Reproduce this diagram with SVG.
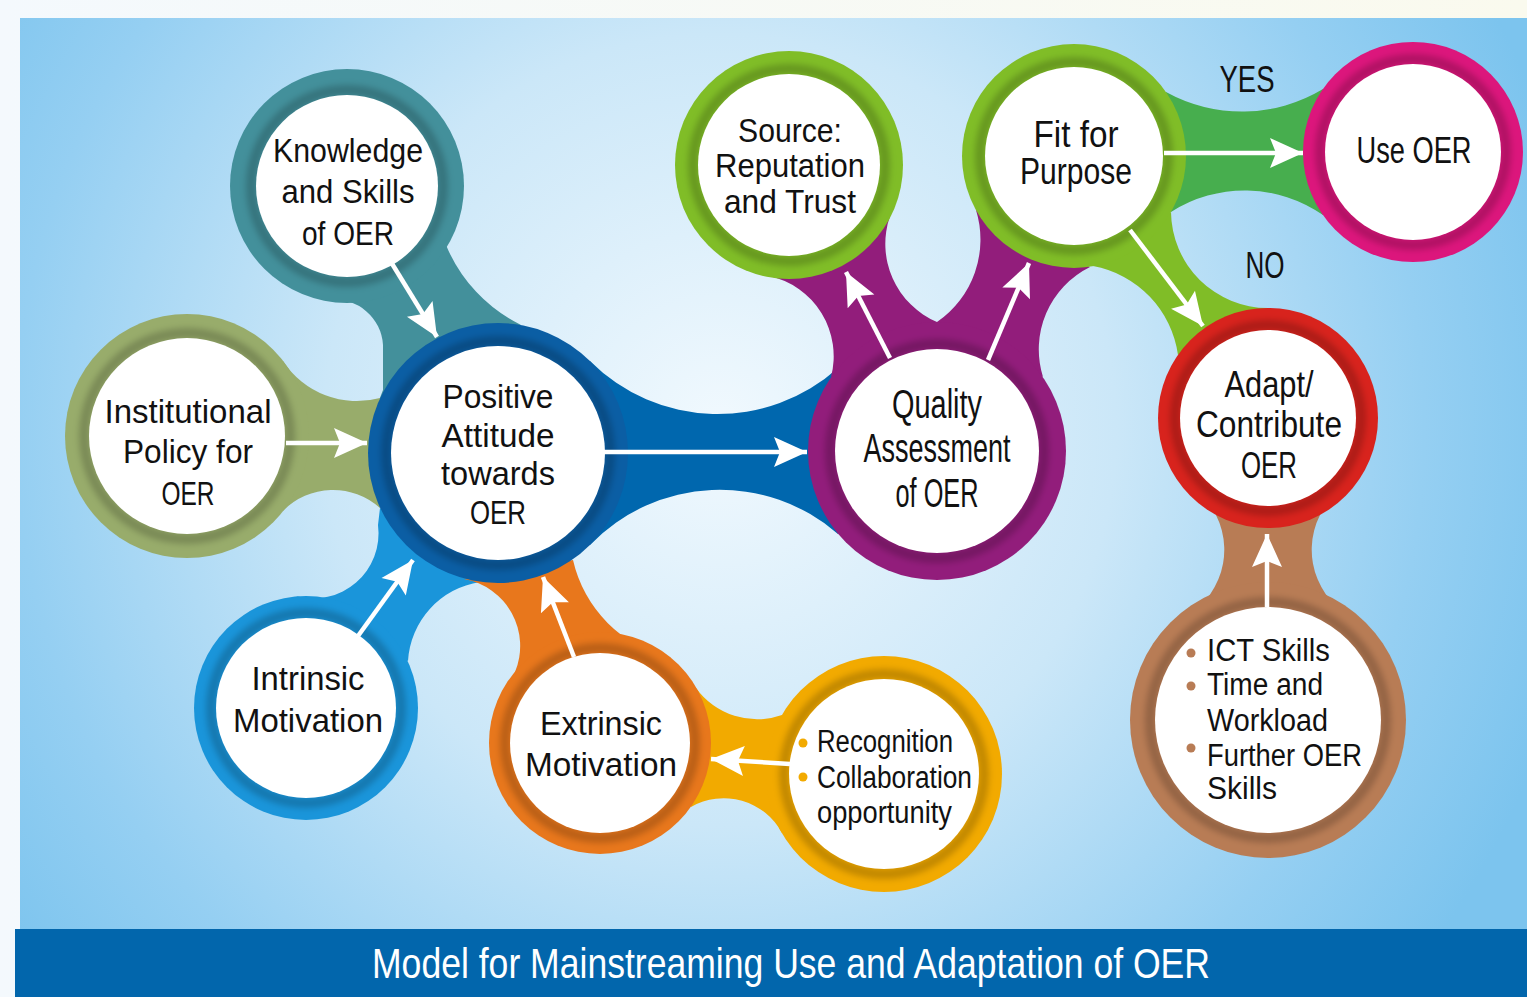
<svg xmlns="http://www.w3.org/2000/svg" width="1527" height="997" viewBox="0 0 1527 997">
<defs>
<linearGradient id="outer" x1="0" y1="0" x2="1" y2="0"><stop offset="0" stop-color="#f4f9fd"/><stop offset="1" stop-color="#fafaee"/></linearGradient>
<radialGradient id="panel" gradientUnits="userSpaceOnUse" cx="720" cy="430" r="880"><stop offset="0" stop-color="#f1f9fe"/><stop offset="0.45" stop-color="#cbe7f8"/><stop offset="0.8" stop-color="#95cff2"/><stop offset="1" stop-color="#7cc4ee"/></radialGradient>
<filter id="blur" x="-20%" y="-20%" width="140%" height="140%"><feGaussianBlur stdDeviation="3"/></filter>
<marker id="ah" markerUnits="userSpaceOnUse" viewBox="-36 -16 38 32" markerWidth="38" markerHeight="32" refX="0" refY="0" orient="auto"><path d="M0,0 L-33,-15 L-27,0 L-33,15 Z" fill="#fff"/></marker>
<style>
.in{fill:#fff}
.sh{fill:none;stroke:#000;stroke-opacity:0.2;stroke-width:10;filter:url(#blur)}
.t{font-family:"Liberation Sans Narrow","Liberation Sans",Arial,sans-serif;font-size:34px;fill:#111;text-anchor:middle}
.l{text-anchor:start;font-size:31px}
.ar{stroke:#fff;stroke-width:4.5;fill:none;marker-end:url(#ah)}
</style>
</defs>
<rect x="0" y="0" width="1527" height="997" fill="url(#outer)"/>
<rect x="20" y="18" width="1507" height="911" fill="url(#panel)"/>
<rect x="15" y="929" width="1512" height="68" fill="#0266ac"/>
<text x="791" y="978" style="font-family:'Liberation Sans Narrow','Liberation Sans',Arial,sans-serif;font-size:42px;fill:#fff;text-anchor:middle" textLength="838" lengthAdjust="spacingAndGlyphs">Model for Mainstreaming Use and Adaptation of OER</text>

<g id="bridges">
<path fill="#43909b" d="M446,245 A155,155 0 0 0 521,325 L376,408 L383,390 L383,345 A48,48 0 0 0 330,300 Z"/>
<path fill="#98ac6b" d="M283,361 A88,88 0 0 0 380,398 L380,508 A70,70 0 0 0 283,511 Z"/>
<path fill="#1a95da" d="M296,596 A65,65 0 0 0 378,525 L380,508 L480,582 A85,85 0 0 0 408,661 Z"/>
<path fill="#e8771c" d="M573,560 A130,130 0 0 0 671,658 L515,672 A68,68 0 0 0 464,579 Z"/>
<path fill="#f2aa00" d="M696,688 A75,75 0 0 0 782,715 L782,833 A66,66 0 0 0 691,807 Z"/>
<path fill="#0067ae" d="M590,361 A180,180 0 0 0 838,368 L838,534 A180,180 0 0 0 590,545 Z"/>
<path fill="#921d7b" d="M890,216 A85,85 0 0 0 937,322 L831,377 A82,82 0 0 0 769,276 Z"/>
<path fill="#921d7b" d="M1090,267 A92,92 0 0 0 1043,377 L937,322 A100,100 0 0 0 976,210 Z"/>
<path fill="#47ae4e" d="M1166,92 A157,157 0 0 0 1323,89 L1323,215 A137,137 0 0 0 1171,212 Z"/>
<path fill="#80bd27" d="M1171,212 A97,97 0 0 0 1268,308 L1178,355 A105,105 0 0 0 1093,266 Z"/>
<path fill="#b87c55" d="M1320,515 A77,77 0 0 0 1365,623 L1171,623 A77,77 0 0 0 1216,515 Z"/>
</g>

<g id="n-knowledge">
<circle cx="347" cy="186" r="117" fill="#43909b"/><circle class="sh" cx="347" cy="186" r="96"/><circle class="in" cx="347" cy="186" r="91"/>
<text class="t" x="348" y="162" textLength="150" lengthAdjust="spacingAndGlyphs">Knowledge</text>
<text class="t" x="348" y="203" textLength="133" lengthAdjust="spacingAndGlyphs">and Skills</text>
<text class="t" x="348" y="245" textLength="92" lengthAdjust="spacingAndGlyphs">of OER</text>
</g>
<g id="n-institutional">
<circle cx="187" cy="436" r="122" fill="#98ac6b"/><circle class="sh" cx="187" cy="436" r="103"/><circle class="in" cx="187" cy="436" r="98"/>
<text class="t" x="188" y="423" textLength="167" lengthAdjust="spacingAndGlyphs">Institutional</text>
<text class="t" x="188" y="463" textLength="130" lengthAdjust="spacingAndGlyphs">Policy for</text>
<text class="t" x="188" y="505" textLength="53" lengthAdjust="spacingAndGlyphs">OER</text>
</g>
<g id="n-positive">
<circle cx="498" cy="453" r="130" fill="#0b5ea4"/><circle class="sh" cx="498" cy="453" r="112"/><circle class="in" cx="498" cy="453" r="107"/>
<text class="t" x="498" y="408" textLength="111" lengthAdjust="spacingAndGlyphs">Positive</text>
<text class="t" x="498" y="447" textLength="113" lengthAdjust="spacingAndGlyphs">Attitude</text>
<text class="t" x="498" y="485" textLength="114" lengthAdjust="spacingAndGlyphs">towards</text>
<text class="t" x="498" y="524" textLength="56" lengthAdjust="spacingAndGlyphs">OER</text>
</g>
<g id="n-intrinsic">
<circle cx="306" cy="708" r="112" fill="#1a95da"/><circle class="sh" cx="306" cy="708" r="95"/><circle class="in" cx="306" cy="708" r="90"/>
<text class="t" x="308" y="690" textLength="113" lengthAdjust="spacingAndGlyphs">Intrinsic</text>
<text class="t" x="308" y="732" textLength="150" lengthAdjust="spacingAndGlyphs">Motivation</text>
</g>
<g id="n-extrinsic">
<circle cx="600" cy="743" r="111" fill="#e8771c"/><circle class="sh" cx="600" cy="743" r="95"/><circle class="in" cx="600" cy="743" r="90"/>
<text class="t" x="601" y="735" textLength="122" lengthAdjust="spacingAndGlyphs">Extrinsic</text>
<text class="t" x="601" y="776" textLength="152" lengthAdjust="spacingAndGlyphs">Motivation</text>
</g>
<g id="n-recognition">
<circle cx="884" cy="774" r="118" fill="#f2aa00"/><circle class="sh" cx="884" cy="774" r="100"/><circle class="in" cx="884" cy="774" r="95"/>
<circle cx="803" cy="743" r="4.5" fill="#f2aa00"/><circle cx="803" cy="777" r="4.5" fill="#f2aa00"/>
<text class="t l" x="817" y="752" textLength="136" lengthAdjust="spacingAndGlyphs">Recognition</text>
<text class="t l" x="817" y="788" textLength="155" lengthAdjust="spacingAndGlyphs">Collaboration</text>
<text class="t l" x="817" y="823" textLength="135" lengthAdjust="spacingAndGlyphs">opportunity</text>
</g>
<g id="n-quality">
<circle cx="937" cy="451" r="129" fill="#921d7b"/><circle class="sh" cx="937" cy="451" r="107"/><circle class="in" cx="937" cy="451" r="102"/>
<text class="t" x="937" y="418" style="font-size:40px" textLength="90" lengthAdjust="spacingAndGlyphs">Quality</text>
<text class="t" x="937" y="462" style="font-size:40px" textLength="147" lengthAdjust="spacingAndGlyphs">Assessment</text>
<text class="t" x="937" y="507" style="font-size:40px" textLength="83" lengthAdjust="spacingAndGlyphs">of OER</text>
</g>
<g id="n-source">
<circle cx="789" cy="165" r="114" fill="#80bd27"/><circle class="sh" cx="789" cy="165" r="96"/><circle class="in" cx="789" cy="165" r="91"/>
<text class="t" x="790" y="142" textLength="104" lengthAdjust="spacingAndGlyphs">Source:</text>
<text class="t" x="790" y="177" textLength="150" lengthAdjust="spacingAndGlyphs">Reputation</text>
<text class="t" x="790" y="213" textLength="132" lengthAdjust="spacingAndGlyphs">and Trust</text>
</g>
<g id="n-fit">
<circle cx="1074" cy="156" r="112" fill="#80bd27"/><circle class="sh" cx="1074" cy="156" r="94"/><circle class="in" cx="1074" cy="156" r="89"/>
<text class="t" x="1076" y="147" style="font-size:36px" textLength="85" lengthAdjust="spacingAndGlyphs">Fit for</text>
<text class="t" x="1076" y="184" style="font-size:36px" textLength="112" lengthAdjust="spacingAndGlyphs">Purpose</text>
</g>
<g id="n-use">
<circle cx="1413" cy="152" r="110" fill="#dc167c"/><circle class="sh" cx="1413" cy="152" r="93"/><circle class="in" cx="1413" cy="152" r="88"/>
<text class="t" x="1414" y="163" style="font-size:37px" textLength="115" lengthAdjust="spacingAndGlyphs">Use OER</text>
</g>
<g id="n-adapt">
<circle cx="1268" cy="418" r="110" fill="#d8231d"/><circle class="sh" cx="1268" cy="418" r="93"/><circle class="in" cx="1268" cy="418" r="88"/>
<text class="t" x="1269" y="397" style="font-size:36px" textLength="89" lengthAdjust="spacingAndGlyphs">Adapt/</text>
<text class="t" x="1269" y="437" style="font-size:36px" textLength="146" lengthAdjust="spacingAndGlyphs">Contribute</text>
<text class="t" x="1269" y="478" style="font-size:36px" textLength="56" lengthAdjust="spacingAndGlyphs">OER</text>
</g>
<g id="n-ict">
<circle cx="1268" cy="720" r="138" fill="#b87c55"/><circle class="sh" cx="1268" cy="720" r="118"/><circle class="in" cx="1268" cy="720" r="113"/>
<circle cx="1191" cy="653" r="4.5" fill="#b87c55"/><circle cx="1191" cy="686" r="4.5" fill="#b87c55"/><circle cx="1191" cy="748" r="4.5" fill="#b87c55"/>
<text class="t l" x="1207" y="661" textLength="123" lengthAdjust="spacingAndGlyphs">ICT Skills</text>
<text class="t l" x="1207" y="695" textLength="116" lengthAdjust="spacingAndGlyphs">Time and</text>
<text class="t l" x="1207" y="731" textLength="121" lengthAdjust="spacingAndGlyphs">Workload</text>
<text class="t l" x="1207" y="766" textLength="155" lengthAdjust="spacingAndGlyphs">Further OER</text>
<text class="t l" x="1207" y="799" textLength="70" lengthAdjust="spacingAndGlyphs">Skills</text>
</g>

<g id="connectors">
<line class="ar" x1="391" y1="262" x2="437" y2="337"/>
<line class="ar" x1="286" y1="443" x2="367" y2="443"/>
<line class="ar" x1="358" y1="636" x2="413" y2="560"/>
<line class="ar" x1="574" y1="657" x2="543" y2="577"/>
<line class="ar" x1="790" y1="764" x2="711" y2="759"/>
<line class="ar" x1="604" y1="452" x2="807" y2="452"/>
<line class="ar" x1="890" y1="358" x2="846" y2="272"/>
<line class="ar" x1="988" y1="360" x2="1029" y2="263"/>
<line class="ar" x1="1164" y1="153" x2="1303" y2="153"/>
<line class="ar" x1="1130" y1="230" x2="1203" y2="326"/>
<line class="ar" x1="1267" y1="607" x2="1267" y2="534"/>
<text class="t" x="1247" y="92" style="font-size:36px" textLength="55" lengthAdjust="spacingAndGlyphs">YES</text>
<text class="t" x="1265" y="278" style="font-size:36px" textLength="39" lengthAdjust="spacingAndGlyphs">NO</text>
</g>
</svg>
